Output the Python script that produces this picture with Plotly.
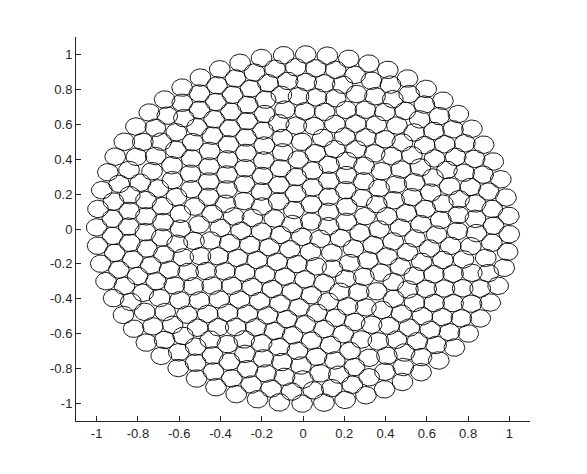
"""
Packing of small circles in the unit disk
"""

import plotly.graph_objects as go
import numpy as np

# seed layout: number of circles, their radius, contact distance for the relaxation
n_points = 445
circle_radius = 0.05
contact = 0.112
n_steps = 400

tick_vals = [-1, -0.8, -0.6, -0.4, -0.2, 0, 0.2, 0.4, 0.6, 0.8, 1]
tick_text = ["-1", "-0.8", "-0.6", "-0.4", "-0.2", "0", "0.2", "0.4", "0.6", "0.8", "1"]

#Start from a sunflower spiral, then relax with a short-range repulsion
phi = (np.sqrt(5) + 1) / 2
k = np.arange(1, n_points + 1)
r0 = np.sqrt(k - 0.5) / np.sqrt(n_points)
th0 = 2 * np.pi * k / phi**2
pts = np.column_stack([r0 * np.cos(th0), r0 * np.sin(th0)])

for step in range(n_steps):
    diff = pts[:, None, :] - pts[None, :, :]
    dist = np.sqrt((diff**2).sum(axis=2)) + np.eye(n_points)
    overlap = np.clip(contact - dist, 0, None)
    np.fill_diagonal(overlap, 0)
    push = (diff / dist[:, :, None] * overlap[:, :, None]).sum(axis=1)
    pts = pts + 0.25 * push
    rr = np.sqrt((pts**2).sum(axis=1))
    far = rr > 1
    pts[far] = pts[far] / rr[far, None]

#Circle outline, reused for every seed
t = np.linspace(0, 2 * np.pi, 41)
cx = circle_radius * np.cos(t)
cy = circle_radius * np.sin(t)

xs = []
ys = []
for px, py in pts:
    xs.extend(list(px + cx) + [None])
    ys.extend(list(py + cy) + [None])

fig = go.Figure()
fig.add_trace(go.Scatter(
    x=xs,
    y=ys,
    mode="lines",
    line={"color": "black", "width": 0.9},
    hoverinfo="skip",
    showlegend=False))

axis_style = dict(
    range=[-1.1, 1.1],
    tickvals=tick_vals,
    ticktext=tick_text,
    ticks="inside",
    ticklen=5,
    tickcolor="#262626",
    showline=True,
    linecolor="#262626",
    linewidth=1,
    showgrid=False,
    zeroline=False,
    tickfont={"family": "Liberation Sans, Arial", "size": 13, "color": "#262626"},
)

fig.update_xaxes(**axis_style)
fig.update_yaxes(**axis_style)

fig.update_layout(
    width=587,
    height=474,
    margin={"l": 68, "r": 65, "t": 29, "b": 61},
    paper_bgcolor="white",
    plot_bgcolor="white",
)

fig.write_html("out.html")
